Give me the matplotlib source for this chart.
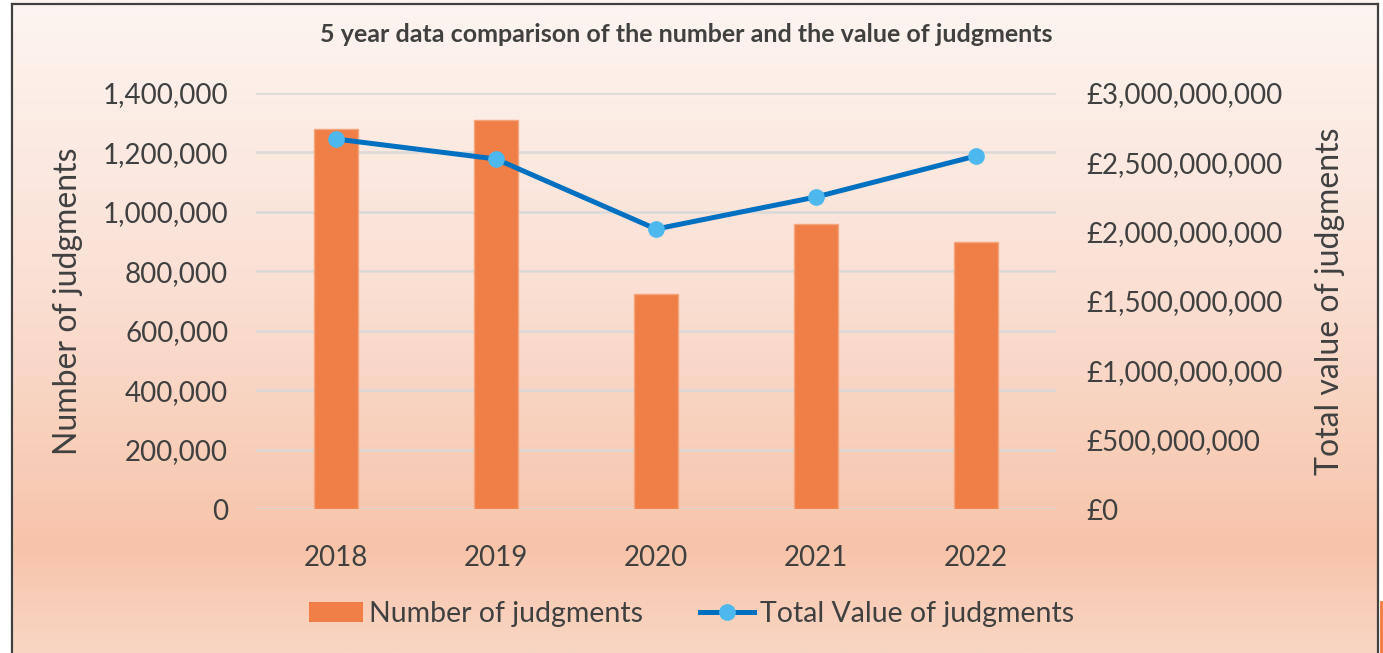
import numpy as np
import matplotlib.pyplot as plt
from matplotlib.colors import LinearSegmentedColormap
from matplotlib.lines import Line2D
from matplotlib.patches import Patch
from matplotlib.ticker import FuncFormatter

years = ['2018', '2019', '2020', '2021', '2022']
num_judgments = [1279000, 1309000, 725000, 959000, 900000]
total_value = [2668000000, 2524000000, 2019000000, 2250000000, 2546000000]

plt.rcParams['font.family'] = ['Lato', 'DejaVu Sans']
txt = '#404040'

fig = plt.figure(figsize=(13.83, 6.53), dpi=100)

# gradient background
bg = fig.add_axes([0, 0, 1, 1], zorder=-10)
cmap = LinearSegmentedColormap.from_list('bg', [
    (0.0, '#fdf5f1'), (0.45, '#fadfd2'), (0.84, '#f7c4aa'), (1.0, '#f9d6c4')])
grad = np.linspace(0, 1, 300).reshape(-1, 1)
bg.imshow(grad, cmap=cmap, aspect='auto', extent=[0, 1, 0, 1], origin='upper')
bg.fill_between([0, 12 / 1383], 0, 1, color='white')
bg.fill_between([1379 / 1383, 1], 0, 1, color='white')
bg.plot([12 / 1383, 12 / 1383], [0, 1 - 4 / 653], color='#404040', lw=1.6)
bg.plot([1378 / 1383, 1378 / 1383], [0, 1 - 4 / 653], color='#404040', lw=1.6)
bg.plot([12 / 1383, 1378 / 1383], [1 - 4 / 653, 1 - 4 / 653], color='#404040', lw=1.6)
bg.plot([1381 / 1383, 1381 / 1383], [0, 1 - 602 / 653], color='#f07a3c', lw=2)
bg.set_xlim(0, 1)
bg.set_ylim(0, 1)
bg.axis('off')

ax = fig.add_axes([256 / 1383, 1 - 509 / 653, 800 / 1383, 416 / 653])
ax.patch.set_alpha(0)
x = np.arange(len(years))
ax.bar(x, num_judgments, width=0.27, color='#ef7f47', edgecolor='#f6a47c', lw=1, zorder=3)
ax.set_ylim(0, 1400000)
ax.set_xlim(-0.5, 4.5)
ax.set_yticks(np.arange(0, 1400001, 200000))
ax.yaxis.set_major_formatter(FuncFormatter(lambda v, p: f'{int(v):,}'))
ax.set_xticks(x)
ax.set_xticklabels(years)
ax.grid(axis='y', color='#d9d9d9', lw=1.8, zorder=0)
for s in ax.spines.values():
    s.set_visible(False)
ax.tick_params(axis='y', length=0, pad=20, labelsize=20, labelcolor=txt)
ax.tick_params(axis='x', length=0, pad=26, labelsize=20, labelcolor=txt)
ax.set_ylabel('Number of judgments', fontsize=23, color=txt, labelpad=14)

ax2 = ax.twinx()
ax2.plot(x, total_value, color='#0070c0', lw=3.6, marker='o', ms=11,
         mfc='#4db8ee', mec='#4db8ee', zorder=5)
ax2.set_ylim(0, 3000000000)
ax2.set_yticks(np.arange(0, 3000000001, 500000000))
ax2.yaxis.set_major_formatter(FuncFormatter(lambda v, p: f'£{int(v):,}'))
for s in ax2.spines.values():
    s.set_visible(False)
ax2.tick_params(axis='y', length=0, pad=22, labelsize=20, labelcolor=txt)
ax2.set_ylabel('Total value of judgments', fontsize=23, color=txt, labelpad=23)

fig.text(686 / 1383, 1 - 35 / 653, '5 year data comparison of the number and the value of judgments',
         ha='center', va='center', fontsize=18, fontweight='bold', color=txt)

handles = [Patch(facecolor='#ef7f47', edgecolor='none'),
           Line2D([0], [0], color='#0070c0', lw=3.6, marker='o', ms=11,
                  mfc='#4db8ee', mec='#4db8ee')]
fig.legend(handles, ['Number of judgments', 'Total Value of judgments'],
           loc='center', bbox_to_anchor=(0.500, 1 - 614 / 653), ncol=2, frameon=False,
           fontsize=20.5, labelcolor=txt, handlelength=1.9, handletextpad=0.2, columnspacing=2.0)

fig.savefig('out.png', dpi=100)
